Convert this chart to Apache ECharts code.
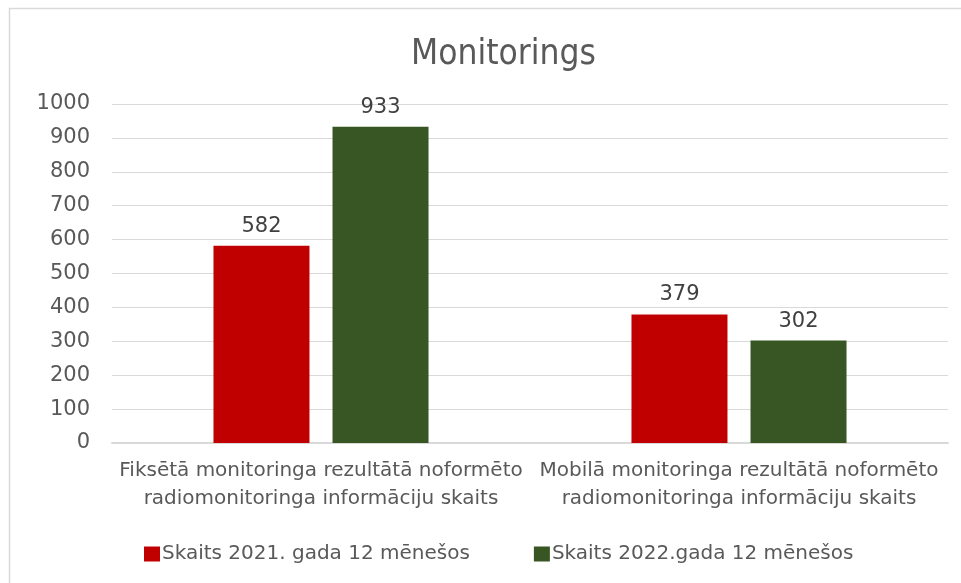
<!DOCTYPE html>
<html><head><meta charset="utf-8">
<script src="https://cdn.jsdelivr.net/npm/echarts@6/dist/echarts.min.js"></script>
<style>html,body{margin:0;padding:0;background:#fff}#c{width:961px;height:583px}</style>
</head><body><div id="c"></div>
<script>
const categories = ["Fiksētā monitoringa rezultātā noformēto\nradiomonitoringa informāciju skaits", "Mobilā monitoringa rezultātā noformēto\nradiomonitoringa informāciju skaits"];
const seriesNames = ["Skaits 2021. gada 12 mēnešos", "Skaits 2022.gada 12 mēnešos"];
const values2021 = [582, 379];
const values2022 = [933, 302];
const colors = ["#c00000", "#375623"];
const NARROW = '"DejaVu Sans Condensed", sans-serif';
const SANS = '"DejaVu Sans", sans-serif';

const chart = echarts.init(document.getElementById('c'), null, {renderer: 'canvas'});
chart.setOption({
  animation: false,
  backgroundColor: '#fff',
  graphic: [{type: 'rect', shape: {x: 9.5, y: 8.5, width: 980, height: 600}, style: {fill: 'none', stroke: '#d9d9d9', lineWidth: 1.5}, silent: true}],
  title: {text: 'Monitorings', left: 406, top: 32, textStyle: {fontFamily: NARROW, fontSize: 35, fontWeight: 'normal', color: '#595959'}},
  legend: {
    left: 139, top: 539, itemWidth: 16, itemHeight: 15, itemGap: 64,
    icon: 'rect',
    textStyle: {fontFamily: SANS, fontSize: 20, color: '#595959', padding: [0,0,0,-3]},
    data: seriesNames
  },
  grid: {left: 112, right: 13, top: 104, bottom: 140, containLabel: false},
  xAxis: {
    type: 'category', data: categories,
    axisLine: {lineStyle: {color: '#d9d9d9', width: 2}},
    axisTick: {show: false},
    axisLabel: {fontFamily: SANS, fontSize: 20, color: '#595959', lineHeight: 28, margin: 14, interval: 0}
  },
  yAxis: {
    type: 'value', min: 0, max: 1000, interval: 100,
    axisLine: {show: false}, axisTick: {show: false},
    splitLine: {lineStyle: {color: '#d9d9d9', width: 1}},
    axisLabel: {fontFamily: SANS, fontSize: 21, color: '#595959', margin: 22, formatter: v => String(v)}
  },
  series: [
    {name: seriesNames[0], type: 'bar', data: values2021, barWidth: 96, barGap: '24%', itemStyle: {color: colors[0]},
     label: {show: true, position: 'top', distance: 9, fontFamily: SANS, fontSize: 21, color: '#404040'}},
    {name: seriesNames[1], type: 'bar', data: values2022, barWidth: 96, itemStyle: {color: colors[1]},
     label: {show: true, position: 'top', distance: 9, fontFamily: SANS, fontSize: 21, color: '#404040'}}
  ]
});
</script></body></html>
